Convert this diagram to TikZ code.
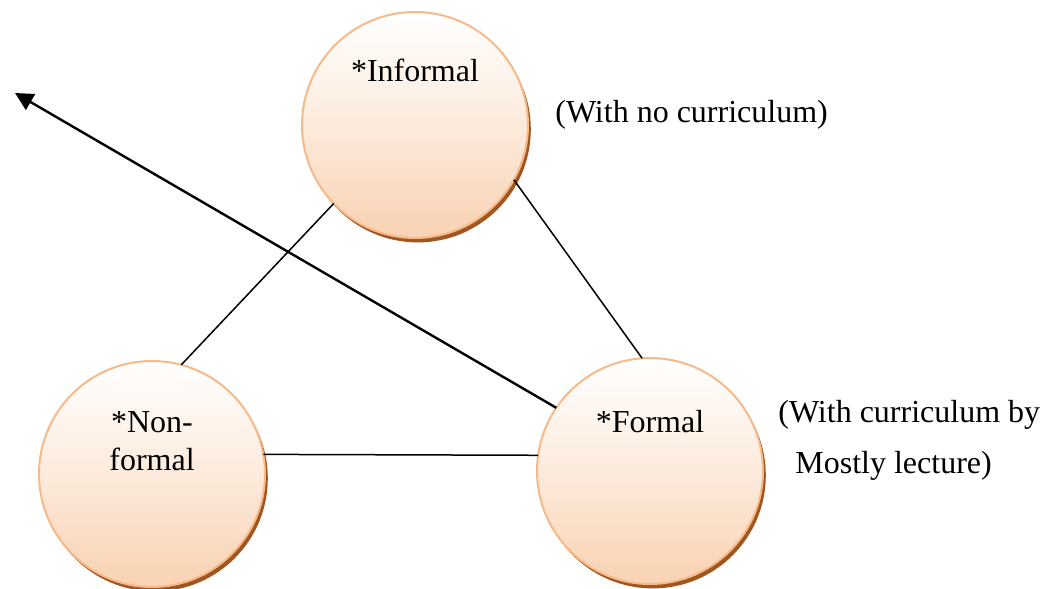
\documentclass[tikz,border=0pt]{standalone}
\usepackage{fontspec}
\setmainfont{Liberation Serif}
\usetikzlibrary{shadows,arrows.meta}
\definecolor{peach}{RGB}{249,210,178}
\definecolor{rimorange}{RGB}{246,186,138}
\definecolor{shadowbrown}{RGB}{160,86,30}
\tikzset{
  ball/.style={circle, minimum size=113pt, inner sep=0pt, outer sep=0pt,
    draw=rimorange, line width=1pt, top color=white, bottom color=peach,
    middle color=peach!45,
    drop shadow={shadow xshift=1.4pt, shadow yshift=-2.2pt, fill=shadowbrown, opacity=1}},
  lbl/.style={font=\fontsize{16}{19}\selectfont, inner sep=0pt, anchor=base},
  note/.style={font=\fontsize{16}{19}\selectfont, inner sep=0pt, anchor=base west},
  link/.style={draw=black, line width=0.75pt},
  arr/.style={draw=black, line width=1.2pt, -{Triangle[length=9pt,width=9pt]}}
}
\begin{document}
\begin{tikzpicture}[x=0.5pt,y=-0.5pt]
\useasboundingbox (0,0) rectangle (1053,588);
\node[ball] (inf) at (415,125) {};
\node[ball] (nf) at (152,474) {};
\node[ball] (fm) at (650,471) {};
\node[lbl] (tinf) at (415,82) {*Informal};
\node[lbl] (tfm) at (650,432) {*Formal};
\node[lbl, align=center] (tnf) at (152,470) {*Non-\\formal};
\node[note] (n1) at (555,123) {(With no curriculum)};
\node[note] (n2) at (778,422) {(With curriculum by};
\node[note] (n3) at (795,473) {Mostly lecture)};
\coordinate (tip) at (15,93);
\draw[link] (inf.224) -- (nf.75);
\draw[link] (inf.331) -- (fm.94);
\draw[link] (nf.10) -- (fm.172);
\draw[arr] (fm.146) -- (tip);
\end{tikzpicture}
\end{document}
